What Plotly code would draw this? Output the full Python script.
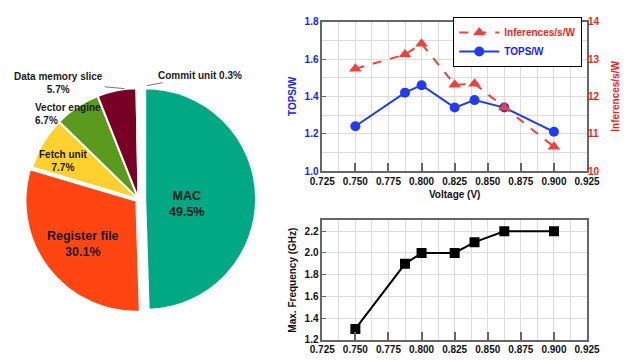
import plotly.graph_objects as go

# ---- data ----
pie_labels = ["MAC", "Register file", "Fetch unit", "Vector engine", "Data memory slice", "Commit unit"]
pie_values = [49.5, 30.1, 7.7, 6.7, 5.7, 0.3]
pie_colors = ["#00A884", "#FF4612", "#FFD12E", "#5A9B1E", "#780026", "#9DC3E6"]

voltage = [0.75, 0.7875, 0.80, 0.825, 0.84, 0.8625, 0.90]
tops_w = [1.24, 1.42, 1.46, 1.34, 1.38, 1.34, 1.21]
inf_s_w = [12.74, 13.12, 13.41, 12.31, 12.34, 11.70, 10.65]
max_freq = [1.3, 1.9, 2.0, 2.0, 2.1, 2.2, 2.2]

W, H = 641, 361
OFF = 8  # page body margin offset
FONT = "Liberation Sans"
BLUE = "#1f3cf0"
RED = "#f0403a"


def px(x):
    return (x - OFF) / W


def py(y):
    return 1 - (y - OFF) / H


fig = go.Figure()

# ---- pie ----
fig.add_trace(go.Pie(
    labels=pie_labels, values=pie_values, sort=False, direction="clockwise", rotation=0,
    marker=dict(colors=pie_colors, line=dict(color="white", width=2)),
    pull=[0.06, 0.025, 0, 0, 0, 0], textinfo="none", hoverinfo="label+percent",
    domain=dict(x=[0, 245 / W], y=[py(324), py(76)]), showlegend=False,
))

# pie labels
big = dict(family=FONT, size=12.5, color="#1a1a1a", weight="bold")
small = dict(family=FONT, size=10, color="#1a1a1a", weight="bold")
lbl = [f"{l}<br>{v}%" for l, v in zip(pie_labels, pie_values)]
ctr = dict(xref="paper", yref="paper", showarrow=False, xanchor="center", yanchor="middle")
fig.add_annotation(x=px(181), y=py(205), text=lbl[0], font=big, **ctr)
fig.add_annotation(x=px(73), y=py(246), text=lbl[1], font=big, **ctr)
fig.add_annotation(x=px(52), y=py(161), text=lbl[2], font=small, **ctr)
fig.add_annotation(x=px(20), y=py(112), xref="paper", yref="paper", text=lbl[3], showarrow=False,
                   font=small, xanchor="left", yanchor="middle", align="left")
fig.add_annotation(x=px(116), y=py(86), xref="paper", yref="paper", text=lbl[4], showarrow=True,
                   arrowhead=0, arrowwidth=0.8, arrowcolor="#555", ax=-66, ay=-6, font=small)
fig.add_annotation(x=px(139), y=py(83), xref="paper", yref="paper",
                   text=f"{pie_labels[5]} {pie_values[5]}%", showarrow=True,
                   arrowhead=0, arrowwidth=0.8, arrowcolor="#555", ax=53, ay=-10, font=small)

# ---- top chart ----
fig.add_trace(go.Scatter(
    x=voltage, y=inf_s_w, name="<span style='color:#ff1a1a'>Inferences/s/W</span>", mode="lines+markers",
    line=dict(color=RED, width=2, dash="dash"),
    marker=dict(symbol="triangle-up", size=11, color=RED),
    xaxis="x", yaxis="y2",
))
fig.add_trace(go.Scatter(
    x=voltage, y=tops_w, name="<span style='color:#1a1aff'>TOPS/W</span>", mode="lines+markers",
    line=dict(color=BLUE, width=2),
    marker=dict(symbol="circle", size=10, color=BLUE),
    xaxis="x", yaxis="y",
))

# ---- bottom chart ----
fig.add_trace(go.Scatter(
    x=voltage, y=max_freq, name="Max. Frequency", mode="lines+markers",
    line=dict(color="black", width=2),
    marker=dict(symbol="square", size=10, color="black"),
    xaxis="x2", yaxis="y3", showlegend=False,
))

tickfont = dict(family=FONT, size=10, color="#111", weight="bold")
axis_common = dict(showline=True, linecolor="#666", linewidth=1.5, mirror=True,
                   gridcolor="#dcdcdc", gridwidth=1, zeroline=False)

xaxis_common = dict(range=[0.725, 0.925], dtick=0.025, tickformat=".3f",
                    ticks="inside", ticklen=8, tickcolor="#666", tickwidth=1.5,
                    minor=dict(dtick=0.0125, showgrid=True, gridcolor="#dcdcdc"),
                    tickfont=tickfont, **axis_common)

fig.update_layout(
    width=W, height=H, margin=dict(l=0, r=0, t=0, b=0),
    paper_bgcolor="white", plot_bgcolor="white",
    font=dict(family=FONT),
    xaxis=dict(domain=[px(322), px(598)], anchor="y",
               title=dict(text="Voltage (V)", font=dict(family=FONT, size=10, color="#111", weight="bold"),
                          standoff=5),
               **xaxis_common),
    yaxis=dict(domain=[py(171), py(17)], range=[1.0, 1.8], dtick=0.2, tickformat=".1f",
               ticks="inside", ticklen=4, tickcolor="#666",
               minor=dict(dtick=0.1, showgrid=True, gridcolor="#dcdcdc"),
               tickfont=dict(family=FONT, size=10, color="#1a1aff", weight="bold"),
               title=dict(text="TOPS/W", font=dict(family=FONT, size=10, color="#1a1aff", weight="bold"),
                          standoff=6),
               anchor="x", **axis_common),
    yaxis2=dict(range=[10, 14], dtick=1, overlaying="y", side="right", anchor="x",
                showgrid=False, zeroline=False,
                tickfont=dict(family=FONT, size=10, color="#ff1a1a", weight="bold"),
                title=dict(text="Inferences/s/W", font=dict(family=FONT, size=10, color="#ff1a1a", weight="bold"),
                           standoff=13)),
    xaxis2=dict(domain=[px(322), px(598)], anchor="y3", **xaxis_common),
    yaxis3=dict(domain=[py(345), py(222)], range=[1.2, 2.3], tickvals=[1.2, 1.4, 1.6, 1.8, 2.0, 2.2],
                tickformat=".1f", ticks="inside", ticklen=4, tickcolor="#666",
                tickfont=tickfont,
                title=dict(text="Max. Frequency (GHz)", font=dict(family=FONT, size=10, color="#111", weight="bold"),
                           standoff=6),
                anchor="x2", **axis_common),
    legend=dict(x=px(593), y=py(38), xanchor="right", yanchor="middle",
                bordercolor="black", borderwidth=1, bgcolor="white",
                font=dict(family=FONT, size=10, weight="bold"),
                tracegroupgap=0, itemwidth=40),
)

fig.write_html("out.html")
